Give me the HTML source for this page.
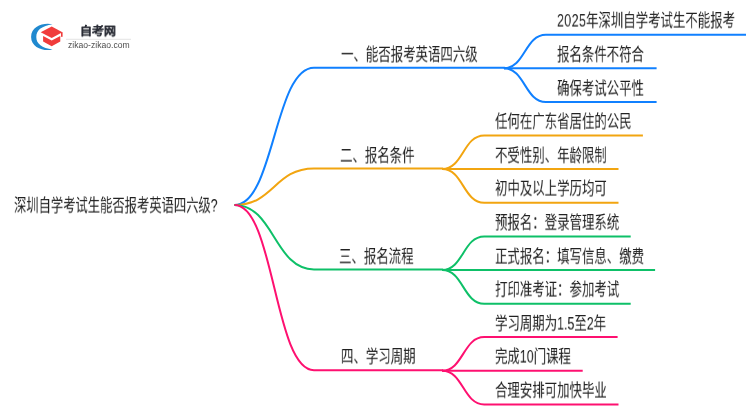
<!DOCTYPE html>
<html lang="zh-CN"><head><meta charset="utf-8">
<style>
html,body{margin:0;padding:0;background:#fff;}
body{width:750px;height:410px;overflow:hidden;position:relative;font-family:"Liberation Sans",sans-serif;}
svg.lines{position:absolute;left:0;top:0;}
svg.lines path{fill:none;stroke-width:2;stroke-linecap:butt;}
.t{position:absolute;white-space:nowrap;font-size:18px;line-height:18px;color:#222;transform:scale(0.69,0.97);transform-origin:0 0;will-change:transform;}
.logo{position:absolute;left:0;top:0;}
.logot{position:absolute;left:80.2px;top:24.6px;font-size:12px;line-height:14px;font-weight:bold;color:#2a2d36;white-space:nowrap;transform:scale(0.995,0.94);transform-origin:0 0;will-change:transform;-webkit-text-stroke:0.2px #2a2d36;}
.logou{position:absolute;left:67.6px;top:40px;font-size:8.5px;line-height:10px;color:#4d4d4d;white-space:nowrap;transform-origin:0 0;will-change:transform;transform:scaleX(1.012);}
</style></head><body>

<svg class="logo" width="750" height="60" viewBox="0 0 750 60">
  <path d="M52.5 24.3 C44 22.2 31.1 26 31.1 36.9 C31.1 47.8 44 51.6 52.5 49.5 C42 47.8 36.3 43.8 36.3 36.9 C36.3 30 42 26 52.5 24.3 Z" fill="#2089cf"/>
  <path d="M40.7 32.2 L51.7 26.6 L62.4 32.2 L51.7 38.0 Z" fill="#f03c3c"/>
  <path d="M43.1 35.9 L51.7 40.4 L60.3 35.9 L60.3 41.6 L51.7 46.3 L43.1 41.6 Z" fill="#f03c3c"/>
  <rect x="61.0" y="32.2" width="1.6" height="4.6" fill="#f03c3c"/>
  <line x1="66" y1="39.3" x2="131" y2="39.3" stroke="#dcdcdc" stroke-width="0.8"/>
</svg>
<div class="logot">自考网</div>
<div class="logou">zikao-zikao.com</div>

<svg class="lines" width="750" height="410" viewBox="0 0 750 410">
<path d="M234.5 205.0 C274.25 205.0 274.25 67.7 314.0 67.7 L504.9 67.7" stroke="#1080ff"/>
<path d="M503.9 68.3 C524.9 68.3 524.9 34.70 545.9 34.70 L746.0 34.70" stroke="#1080ff"/>
<path d="M503.9 68.3 L656.6 68.3" stroke="#1080ff"/>
<path d="M503.9 68.3 C524.9 68.3 524.9 102.00 545.9 102.00 L656.6 102.00" stroke="#1080ff"/>
<path d="M234.5 205.0 C274.25 205.0 274.25 168.55 314.0 168.55 L443.2 168.55" stroke="#f2a510"/>
<path d="M442.2 169.0 C463.2 169.0 463.2 135.40 484.2 135.40 L642.9 135.40" stroke="#f2a510"/>
<path d="M442.2 169.0 L618.5 169.0" stroke="#f2a510"/>
<path d="M442.2 169.0 C463.2 169.0 463.2 202.70 484.2 202.70 L618.5 202.70" stroke="#f2a510"/>
<path d="M234.5 205.0 C274.25 205.0 274.25 269.4 314.0 269.4 L443.2 269.4" stroke="#0ec068"/>
<path d="M442.2 270.0 C463.2 270.0 463.2 236.40 484.2 236.40 L630.7 236.40" stroke="#0ec068"/>
<path d="M442.2 270.0 L655.1 270.0" stroke="#0ec068"/>
<path d="M442.2 270.0 C463.2 270.0 463.2 303.70 484.2 303.70 L630.7 303.70" stroke="#0ec068"/>
<path d="M234.5 205.0 C274.25 205.0 274.25 370.15 314.0 370.15 L443.2 370.15" stroke="#fe1070"/>
<path d="M442.2 370.7 C463.2 370.7 463.2 337.10 484.2 337.10 L617.6 337.10" stroke="#fe1070"/>
<path d="M442.2 370.7 L582.7 370.7" stroke="#fe1070"/>
<path d="M442.2 370.7 C463.2 370.7 463.2 404.40 484.2 404.40 L618.5 404.40" stroke="#fe1070"/>
</svg>
<div class="t" style="left:341.0px;top:45.6px">一、能否报考英语四六级</div>
<div class="t" style="left:557.1px;top:12.2px"><span style="letter-spacing:0.58px">2025</span>年深圳自学考试生不能报考</div>
<div class="t" style="left:557.1px;top:45.8px">报名条件不符合</div>
<div class="t" style="left:557.1px;top:79.5px">确保考试公平性</div>
<div class="t" style="left:340.3px;top:146.5px">二、报名条件</div>
<div class="t" style="left:495.3px;top:112.9px">任何在广东省居住的公民</div>
<div class="t" style="left:495.3px;top:146.5px">不受性别、年龄限制</div>
<div class="t" style="left:495.3px;top:180.2px">初中及以上学历均可</div>
<div class="t" style="left:339.4px;top:247.7px">三、报名流程</div>
<div class="t" style="left:494.6px;top:213.9px">预报名：登录管理系统</div>
<div class="t" style="left:494.6px;top:247.5px">正式报名：填写信息、缴费</div>
<div class="t" style="left:494.6px;top:281.2px">打印准考证：参加考试</div>
<div class="t" style="left:341.0px;top:348.0px">四、学习周期</div>
<div class="t" style="left:494.6px;top:314.6px">学习周期为1.5至2年</div>
<div class="t" style="left:494.6px;top:348.2px">完成10门课程</div>
<div class="t" style="left:494.6px;top:381.9px">合理安排可加快毕业</div>
<div class="t" style="left:14.0px;top:197.2px;transform:scale(0.683,0.97)">深圳自学考试生能否报考英语四六级?</div>
</body></html>
